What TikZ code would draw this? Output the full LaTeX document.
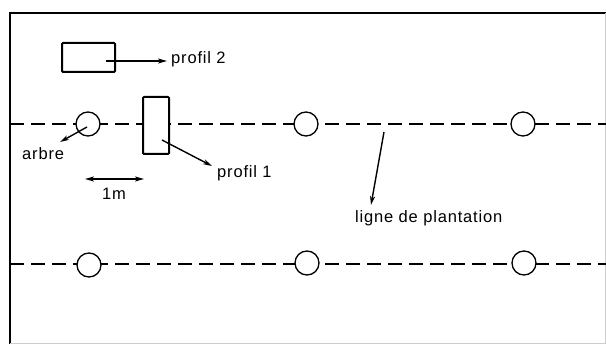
\documentclass[tikz,border=0pt]{standalone}
\usepackage{fontspec}
\setmainfont{Liberation Sans}[LetterSpace=5]
\usetikzlibrary{arrows.meta}
\tikzset{
  tree/.style={circle,draw,line width=1.3pt,fill=white,minimum size=24pt,inner sep=0pt},
  profbox/.style={draw,line width=2pt,fill=white,inner sep=0pt,rounded corners=1pt},
  plantline/.style={line width=1.9pt,dash pattern=on 14pt off 7pt},
  tip/.style={},
  arr/.style={line width=1.4pt,-{Stealth[length=9pt,width=5pt,inset=2.5pt]}},
  darr/.style={line width=1.4pt,{Stealth[length=9pt,width=5pt,inset=2.5pt]}-{Stealth[length=9pt,width=5pt,inset=2.5pt]}},
  lbl/.style={anchor=base west,inner sep=0pt,font=\fontsize{16.5}{19}\selectfont},
}
\begin{document}
\begin{tikzpicture}[x=1pt,y=-1pt]
\useasboundingbox (0,0) rectangle (606,344);
% frame
\draw[line width=2pt] (10,344) -- (10,13) -- (606,13);
\draw[gray!40,line width=0.6pt] (605,13) -- (605,343) -- (10,343);
% planting lines
\draw[plantline] (10,124) -- (606,124);
\draw[plantline] (10,264) -- (606,264);
% trees row 1
\node[tree] (t11) at (88,124) {};
\node[tree] (t12) at (306,124) {};
\node[tree] (t13) at (523,124) {};
% trees row 2
\node[tree] (t21) at (89,265) {};
\node[tree] (t22) at (307,263) {};
\node[tree] (t23) at (524,263) {};
% profiles
\node[profbox,minimum width=53pt,minimum height=29pt] (p2) at (88.5,57.5) {};
\node[profbox,minimum width=26pt,minimum height=57pt] (p1) at (156,125.5) {};
% labels
\node[lbl] (lp2) at (171,64) {profil 2};
\node[lbl] (lp1) at (217,178) {profil 1};
\node[lbl] (larbre) at (22,160) {arbre};
\node[lbl,anchor=base] (l1m) at (114,200) {1m};
\node[lbl] (lligne) at (355,223) {ligne de plantation};
% arrow anchor points
\coordinate (s2) at (106,61);
\coordinate (e2) at (167,61);
\coordinate (s1) at (162,140);
\coordinate (e1) at (212,166);
\coordinate (sa) at (87,127);
\coordinate (ea) at (60,142);
\coordinate (m1) at (85,179);
\coordinate (m2) at (144,179);
\coordinate (sl) at (384,132);
\coordinate (el) at (371,205);
% connectors
\draw[arr] (s2) -- (e2);
\draw[arr] (s1) -- (e1);
\draw[arr] (sa) -- (ea);
\draw[darr] (m1) -- (m2);
\draw[arr] (sl) -- (el);
\end{tikzpicture}
\end{document}
